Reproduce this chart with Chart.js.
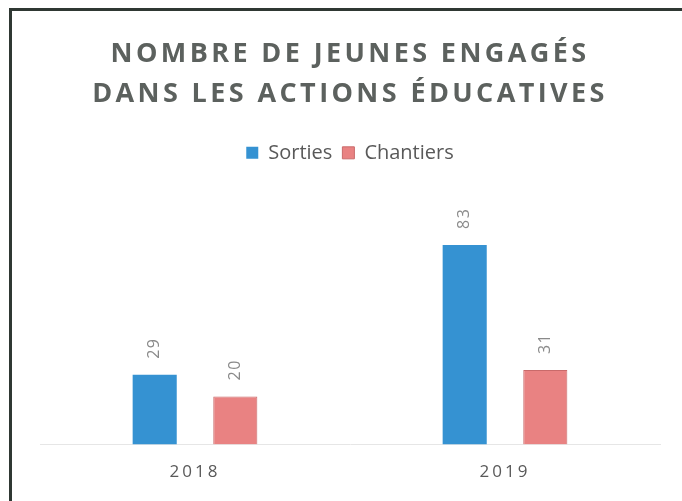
<!DOCTYPE html>
<html>
<head>
<meta charset="utf-8">
<script src="https://cdn.jsdelivr.net/npm/chart.js@4/dist/chart.umd.min.js"></script>
<style>
html,body{margin:0;padding:0;background:#fff;}
#wrap{position:relative;width:682px;height:501px;overflow:hidden;}
#frameL{position:absolute;left:9px;top:8px;width:3px;height:493px;background:#2f3833;}
#frameT{position:absolute;left:9px;top:8px;width:673px;height:3px;background:#2f3833;}
canvas{position:absolute;left:0;top:0;}
</style>
</head>
<body>
<div id="wrap">
<canvas id="c" width="682" height="501"></canvas>
<div id="frameL"></div><div id="frameT"></div>
</div>
<script>
const titleLines = ['NOMBRE DE JEUNES ENGAGÉS', 'DANS LES ACTIONS ÉDUCATIVES'];
const categories = ['2018', '2019'];
const seriesNames = ['Sorties', 'Chantiers'];
const sorties = [29, 83];
const chantiers = [20, 31];

const spacingPlugin = {
  id: 'spacing',
  beforeDraw(chart) {
    const ctx = chart.ctx;
    ctx.letterSpacing = '3px';
    if (chart.titleBlock && !chart.titleBlock._wrapped) {
      const ot = chart.titleBlock.draw;
      chart.titleBlock.draw = function() {
        const c = this.ctx; c.letterSpacing = '3.4px';
        ot.apply(this, arguments);
        c.letterSpacing = '3px';
      };
      chart.titleBlock._wrapped = true;
    }
    if (chart.legend && !chart.legend._wrapped) {
      const o = chart.legend.draw;
      chart.legend.draw = function() {
        const c = this.ctx; c.letterSpacing = '0px';
        o.apply(this, arguments);
        c.letterSpacing = '3px';
      };
      chart.legend._wrapped = true;
    }
  }
};

const valueLabels = {
  id: 'valueLabels',
  afterDatasetsDraw(chart) {
    const ctx = chart.ctx;
    chart.data.datasets.forEach((ds, i) => {
      const meta = chart.getDatasetMeta(i);
      meta.data.forEach((bar, j) => {
        ctx.save();
        ctx.letterSpacing = '1.5px';
        ctx.translate(bar.x, bar.y - 16);
        ctx.rotate(-Math.PI / 2);
        ctx.font = '16px "Open Sans"';
        ctx.fillStyle = '#8a8a8a';
        ctx.textAlign = 'left';
        ctx.textBaseline = 'middle';
        ctx.fillText(String(ds.data[j]), 0, 0);
        ctx.restore();
      });
    });
  }
};

new Chart(document.getElementById('c'), {
  type: 'bar',
  data: {
    labels: categories,
    datasets: [
      { label: seriesNames[0], data: sorties, backgroundColor: '#3592d2', borderColor: '#3592d2', borderWidth: 0 },
      { label: seriesNames[1], data: chantiers, backgroundColor: '#e98282', borderColor: '#c96a6a', borderWidth: 1 }
    ]
  },
  options: {
    responsive: false,
    animation: false,
    layout: { padding: { left: 40, right: 22, top: 0, bottom: 2 } },
    datasets: { bar: { categoryPercentage: 0.52, barPercentage: 0.547 } },
    plugins: {
      title: {
        display: true,
        text: titleLines,
        color: '#5c615e',
        font: { family: '"Open Sans"', size: 27, weight: 'bold', lineHeight: 1.46 },
        padding: { top: 35, bottom: 19 }
      },
      legend: {
        display: true,
        position: 'top',
        labels: {
          color: '#595959',
          font: { family: '"Open Sans"', size: 20 },
          boxWidth: 12, boxHeight: 12, padding: 10, useBorderRadius: false
        }
      },
      tooltip: { enabled: false }
    },
    scales: {
      x: {
        grid: { display: false, drawTicks: false },
        border: { display: true, color: '#e6e6e6' },
        ticks: { color: '#595959', font: { family: '"Open Sans"', size: 17 }, padding: 17 }
      },
      y: {
        display: false,
        min: 0, max: 113
      }
    }
  },
  plugins: [spacingPlugin, valueLabels]
});
</script>
</body>
</html>
